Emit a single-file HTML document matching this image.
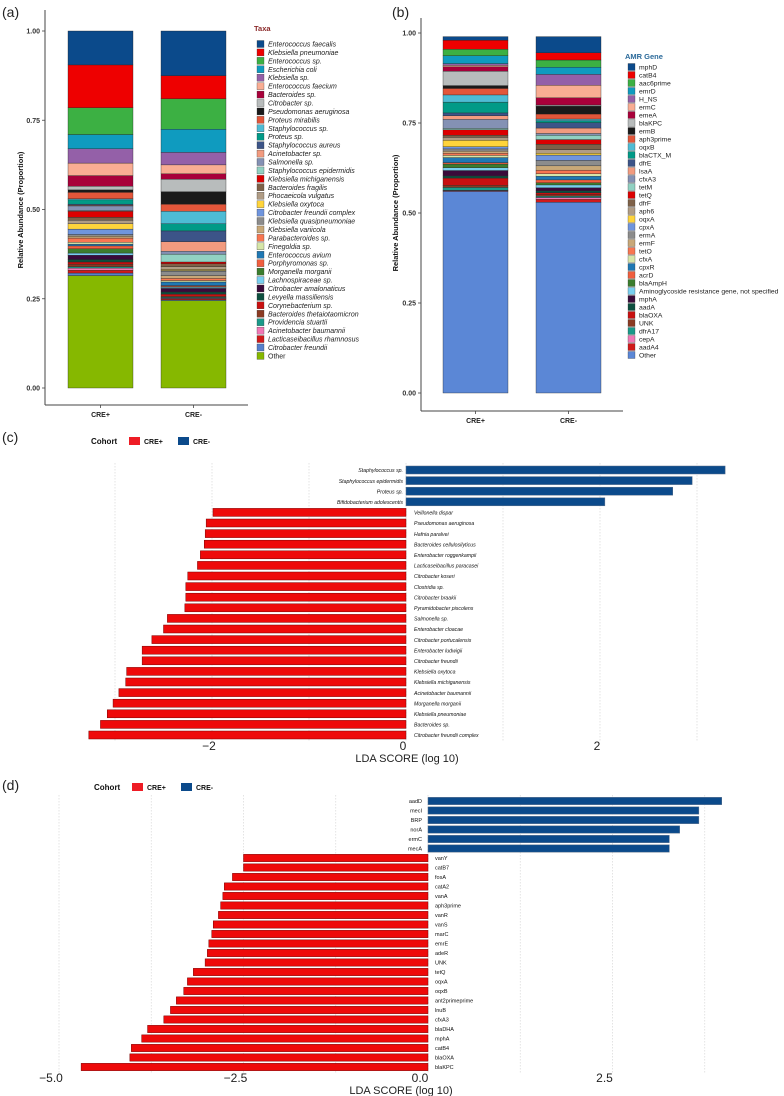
<!DOCTYPE html>
<html><head><meta charset="utf-8"><style>
html,body{margin:0;padding:0;background:#fff;}
svg{display:block;font-family:"Liberation Sans",sans-serif;}
</style></head><body>
<svg id="fig" width="784" height="1096" viewBox="0 0 784 1096" xmlns="http://www.w3.org/2000/svg">
<text x="2" y="17" font-size="14" fill="#222">(a)</text>
<text x="392" y="17" font-size="14" fill="#222">(b)</text>
<text x="2" y="442" font-size="14" fill="#222">(c)</text>
<text x="2" y="790" font-size="14" fill="#222">(d)</text>
<g id="pa"></g>
<g id="pb"></g>
<g id="pc"></g>
<g id="pd"></g>
</svg>
<script>
const NS="http://www.w3.org/2000/svg";
const groups=["CRE+","CRE-"];
const taxaNames=["Enterococcus faecalis","Klebsiella pneumoniae","Enterococcus sp.","Escherichia coli","Klebsiella sp.","Enterococcus faecium","Bacteroides sp.","Citrobacter sp.","Pseudomonas aeruginosa","Proteus mirabilis","Staphylococcus sp.","Proteus sp.","Staphylococcus aureus","Acinetobacter sp.","Salmonella sp.","Staphylococcus epidermidis","Klebsiella michiganensis","Bacteroides fragilis","Phocaeicola vulgatus","Klebsiella oxytoca","Citrobacter freundii complex","Klebsiella quasipneumoniae","Klebsiella variicola","Parabacteroides sp.","Finegoldia sp.","Enterococcus avium","Porphyromonas sp.","Morganella morganii","Lachnospiraceae sp.","Citrobacter amalonaticus","Levyella massiliensis","Corynebacterium sp.","Bacteroides thetaiotaomicron","Providencia stuartii","Acinetobacter baumannii","Lacticaseibacillus rhamnosus","Citrobacter freundii","Other"];
const taxaColors=["#0b4a8b","#ee0000","#3cb043","#0f9bbf","#9460a8","#f9ad93","#a8003a","#b8bcbc","#1a1a1a","#e3563a","#4ebcd5","#019a87","#3c5488","#f29b7f","#8491b4","#91d1c2","#dc0000","#7e6148","#b09c85","#ffd43b","#6f95de","#8c8c8c","#c8a878","#f87651","#d6e6a8","#1f78b4","#f05f3f","#3b7d2e","#78cff0","#3a0a3a","#0d4f3f","#c81010","#8b3a22","#1a9a8a","#f178b6","#d11a1a","#5680cd","#86b800"];
const taxaCREpos=[0.095,0.12,0.075,0.04,0.04,0.035,0.03,0.01,0.007,0.018,0.003,0.012,0.003,0.002,0.013,0.002,0.017,0.008,0.01,0.015,0.015,0.005,0.005,0.012,0.005,0.005,0.008,0.012,0.006,0.012,0.007,0.006,0.007,0.004,0.006,0.008,0.007,0.315];
const taxaCREneg=[0.125,0.065,0.085,0.065,0.035,0.025,0.015,0.035,0.035,0.02,0.035,0.02,0.03,0.027,0.008,0.022,0.005,0.008,0.008,0.003,0.002,0.012,0.008,0.006,0.004,0.01,0.003,0.002,0.003,0.01,0.006,0.006,0.003,0.002,0.002,0.003,0.002,0.245];
const amrNames=["mphD","catB4","aac6prime","emrD","H_NS","ermC","emeA","blaKPC","ermB","aph3prime","oqxB","blaCTX_M","dfrE","lsaA","cfxA3","tetM","tetQ","dfrF","aph6","oqxA","cpxA","ermA","ermF","tetO","cfxA","cpxR","acrD","blaAmpH","Aminoglycoside resistance gene, not specified","mphA","aadA","blaOXA","UNK","dfrA17","cepA","aadA4","Other"];
const amrColors=["#0b4a8b","#ee0000","#3cb043","#0f9bbf","#9460a8","#f9ad93","#a8003a","#b8bcbc","#1a1a1a","#e3563a","#4ebcd5","#019a87","#3c5488","#f29b7f","#8491b4","#91d1c2","#dc0000","#7e6148","#b09c85","#ffd43b","#6f95de","#8c8c8c","#c8a878","#f87651","#d6e6a8","#1f78b4","#f05f3f","#3b7d2e","#78cff0","#3a0a3a","#0d4f3f","#c81010","#8b3a22","#1a9a8a","#f178b6","#d11a1a","#5b87d6"];
const amrCREpos=[0.01,0.025,0.018,0.022,0.005,0.004,0.012,0.04,0.008,0.018,0.02,0.03,0.008,0.01,0.025,0.004,0.015,0.006,0.008,0.018,0.006,0.006,0.006,0.006,0.006,0.014,0.004,0.01,0.008,0.015,0.006,0.02,0.006,0.008,0.001,0.002,0.56];
const amrCREneg=[0.045,0.02,0.02,0.02,0.03,0.035,0.02,0.003,0.022,0.014,0.005,0.005,0.015,0.015,0.005,0.012,0.013,0.015,0.01,0.005,0.015,0.015,0.012,0.01,0.007,0.01,0.008,0.006,0.008,0.008,0.006,0.005,0.004,0.004,0.005,0.008,0.53];
const stackTicks=[0,0.25,0.5,0.75,1];
const stackTickLabels=["0.00","0.25","0.50","0.75","1.00"];
const lefseTaxa=["Staphylococcus sp.","Staphylococcus epidermidis","Proteus sp.","Bifidobacterium adolescentis","Veillonella dispar","Pseudomonas aeruginosa","Hafnia paralvei","Bacteroides cellulosilyticus","Enterobacter roggenkampii","Lacticaseibacillus paracasei","Citrobacter koseri","Clostridia sp.","Citrobacter braakii","Pyramidobacter piscolens","Salmonella sp.","Enterobacter cloacae","Citrobacter portucalensis","Enterobacter ludwigii","Citrobacter freundii","Klebsiella oxytoca","Klebsiella michiganensis","Acinetobacter baumannii","Morganella morganii","Klebsiella pneumoniae","Bacteroides sp.","Citrobacter freundii complex"];
const lefseTaxaScores=[3.29,2.95,2.75,2.05,-1.99,-2.06,-2.07,-2.08,-2.12,-2.15,-2.25,-2.27,-2.27,-2.28,-2.46,-2.5,-2.62,-2.72,-2.72,-2.88,-2.89,-2.96,-3.02,-3.08,-3.15,-3.27];
const taxaTicks=[-2,0,2];
const taxaGrid=[-3,-2,-1,0,1,2,3];
const lefseGenes=["aadD","mecI","BRP","norA","ermC","mecA","vanY","catB7","fosA","catA2","vanA","aph3prime","vanR","vanS","marC","emrE","adeR","UNK","tetQ","oqxA","oqxB","ant2primeprime","lnuB","cfxA3","blaDHA","mphA","catB4","blaOXA","blaKPC"];
const lefseGeneScores=[3.98,3.67,3.67,3.41,3.27,3.27,-2.5,-2.5,-2.65,-2.76,-2.78,-2.81,-2.84,-2.91,-2.93,-2.97,-2.99,-3.02,-3.18,-3.26,-3.31,-3.41,-3.49,-3.58,-3.8,-3.88,-4.02,-4.04,-4.7];
const geneTicks=[-5,-2.5,0,2.5];
const geneTickLabels=["\u22125.0","\u22122.5","0.0","2.5"];
const geneGrid=[-5,-3.75,-2.5,-1.25,0,1.25,2.5,3.75];

function el(parent,tag,attrs,txt){const e=document.createElementNS(NS,tag);for(const k in attrs)e.setAttribute(k,attrs[k]);if(txt!==undefined)e.textContent=txt;parent.appendChild(e);return e;}

function stackPanel(g,cfg){
  const y=v=>cfg.y0-cfg.unit*v;
  let e;
  e=el(g,"line",{x1:cfg.axX,y1:cfg.axTop,x2:cfg.axX,y2:cfg.axBot,stroke:"#444","stroke-width":1});
  
  
  e=el(g,"line",{x1:cfg.axX,y1:cfg.axBot,x2:cfg.axR,y2:cfg.axBot,stroke:"#444","stroke-width":1});
  
  
  stackTicks.forEach((t,i)=>{
    e=el(g,"line",{x1:cfg.axX-3,y1:y(t),x2:cfg.axX,y2:y(t),stroke:"#444","stroke-width":0.8});
    
    
    e=el(g,"text",{x:cfg.axX-5,y:y(t)+2.5,"font-size":7,"font-weight":"bold","text-anchor":"end",fill:"#333"},stackTickLabels[i]);
    
    
  });
  e=el(g,"text",{x:0,y:0,"font-size":7.5,"font-weight":"bold","text-anchor":"middle",fill:"#111",transform:`translate(${cfg.titleX},${cfg.titleY}) rotate(-90)`},"Relative Abundance (Proportion)");
  
  
  [cfg.pos,cfg.neg].forEach((vals,gi)=>{
    const bx=cfg.barX[gi];
    let cum=0;
    for(let i=vals.length-1;i>=0;i--){
      const top=y(cum+vals[i]),bot=y(cum);
      e=el(g,"rect",{x:bx,y:top,width:cfg.barW,height:Math.max(0,bot-top),fill:cfg.colors[i],stroke:"#222","stroke-width":0.35});
      
      
      cum+=vals[i];
    }
    const cx=bx+cfg.barW/2;
    e=el(g,"line",{x1:cx,y1:cfg.axBot,x2:cx,y2:cfg.axBot+3,stroke:"#444","stroke-width":0.8});
    
    
    e=el(g,"text",{x:cx,y:cfg.axBot+12,"font-size":7,"font-weight":"bold","text-anchor":"middle",fill:"#222"},groups[gi]);
    
    
  });
  e=el(g,"text",{x:cfg.legX-3,y:cfg.legTitleY,"font-size":7.5,"font-weight":"bold",fill:cfg.legTitleColor},cfg.legTitle);
  
  
  cfg.names.forEach((n,i)=>{
    const ly=cfg.legY0+i*cfg.legStep;
    e=el(g,"rect",{x:cfg.legX,y:ly-3.5,width:7,height:7,fill:cfg.colors[i],stroke:"#333","stroke-width":0.3});
    
    
    e=el(g,"text",{x:cfg.legX+11,y:ly+2.5,"font-size":cfg.legFont,"font-style":cfg.italic&&n!=="Other"?"italic":"normal",fill:"#222"},n);
    
    
  });
}
stackPanel(document.getElementById("pa"),{y0:388,unit:357,axX:45,axTop:10,axBot:405,axR:248,titleX:23,titleY:210,barX:[68,161],barW:65,pos:taxaCREpos,neg:taxaCREneg,colors:taxaColors,names:taxaNames,legX:257,legY0:44,legStep:8.43,legTitle:"Taxa",legTitleY:31,legTitleColor:"#8b2a2a",legFont:7,italic:true});
stackPanel(document.getElementById("pb"),{y0:393,unit:360,axX:421,axTop:18,axBot:411,axR:623,titleX:398,titleY:213,barX:[443,536],barW:65,pos:amrCREpos,neg:amrCREneg,colors:amrColors,names:amrNames,legX:628,legY0:67,legStep:8.0,legTitle:"AMR Gene",legTitleY:59,legTitleColor:"#2b6a9a",legFont:6.8,italic:false});

function ldaPanel(g,cfg){
  const x=v=>cfg.x0+cfg.unit*v;
  let e;
  e=el(g,"text",{x:cfg.legX,y:cfg.legY+3,"font-size":8,"font-weight":"bold",fill:"#111"},"Cohort");
  
  
  e=el(g,"rect",{x:cfg.legX+38,y:cfg.legY-4,width:11,height:8,fill:"#ee1c25"});
  
  
  e=el(g,"text",{x:cfg.legX+53,y:cfg.legY+3,"font-size":7,"font-weight":"bold",fill:"#111"},"CRE+");
  
  
  e=el(g,"rect",{x:cfg.legX+87,y:cfg.legY-4,width:11,height:8,fill:"#0b4a8b"});
  
  
  e=el(g,"text",{x:cfg.legX+102,y:cfg.legY+3,"font-size":7,"font-weight":"bold",fill:"#111"},"CRE-");
  
  
  cfg.grid.forEach(v=>{
    e=el(g,"line",{x1:x(v),y1:cfg.gridTop,x2:x(v),y2:cfg.gridBot,stroke:"#d8d8d8","stroke-width":0.7,"stroke-dasharray":"1.5,1.5"});
    
    
  });
  cfg.names.forEach((n,i)=>{
    const v=cfg.scores[i],cy=cfg.row0+i*cfg.step;
    const x1=Math.min(x(0),x(v)),w=Math.abs(x(v)-x(0));
    const pos=v<0;
    e=el(g,"rect",{x:x1,y:cy-cfg.barH/2,width:w,height:cfg.barH,fill:pos?"#ee0a0a":"#0b4a8b",stroke:pos?"#7a0000":"#5a6f8a","stroke-width":0.5});
    
    
    e=el(g,"text",{x:pos?x(0)+cfg.lblGap:x(0)-cfg.lblGapNeg,y:cy+2.2,"font-size":cfg.font,"font-style":cfg.italic?"italic":"normal","text-anchor":pos?"start":"end",fill:"#111"},n);
    
    
  });
  cfg.ticks.forEach((t,i)=>{
    e=el(g,"text",{x:x(t)+cfg.tickOff,y:cfg.tickY,"font-size":12,"text-anchor":"middle",fill:"#222"},cfg.tickLabels[i]);
    
    
  });
  e=el(g,"text",{x:cfg.titleX,y:cfg.titleY,"font-size":11,"text-anchor":"middle",fill:"#222"},"LDA SCORE (log 10)");
  
  
}
ldaPanel(document.getElementById("pc"),{x0:406,unit:97,grid:taxaGrid,gridTop:463,gridBot:741,names:lefseTaxa,scores:lefseTaxaScores,row0:470,step:10.6,barH:8,font:5.2,italic:true,lblGap:8,lblGapNeg:3,ticks:taxaTicks,tickLabels:taxaTicks.map(t=>t<0?"\u2212"+Math.abs(t):String(t)),tickOff:-3,tickY:750,titleX:407,titleY:762,legX:91,legY:441});
ldaPanel(document.getElementById("pd"),{x0:428,unit:73.8,grid:geneGrid,gridTop:795,gridBot:1073,names:lefseGenes,scores:lefseGeneScores,row0:801,step:9.5,barH:7.3,font:5.5,italic:false,lblGap:7,lblGapNeg:6,ticks:geneTicks,tickLabels:geneTickLabels,tickOff:-8,tickY:1082,titleX:401,titleY:1094,legX:94,legY:787});
</script>
</body></html>
